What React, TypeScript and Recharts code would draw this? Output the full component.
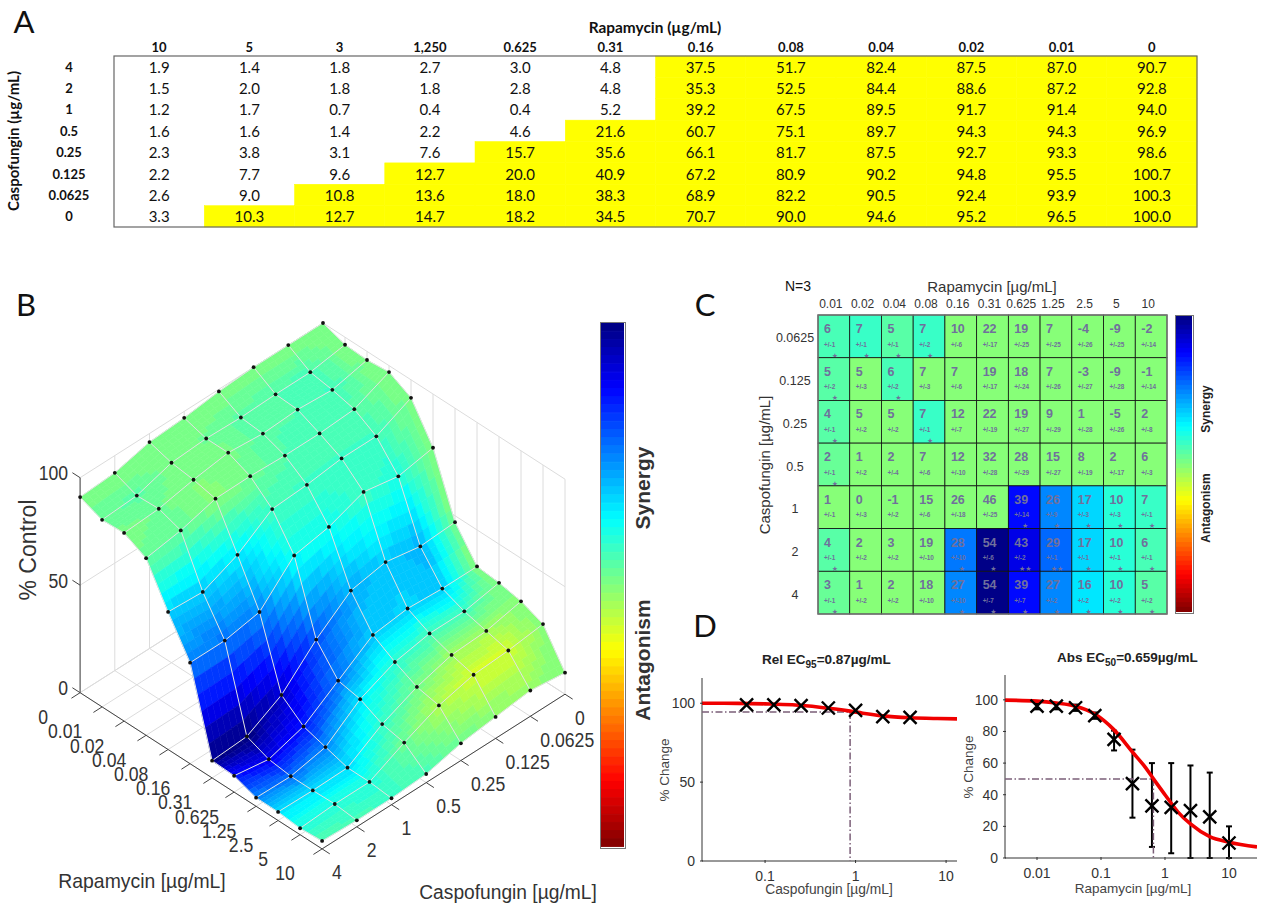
import { ScatterChart, Scatter, XAxis, YAxis, ErrorBar, BarChart, Bar, Cell } from "recharts";

const SANS = "'Liberation Sans', Arial, sans-serif";
const CAL = "Lato, sans-serif";

// panel A
const tableCols = ["10", "5", "3", "1,250", "0.625", "0.31", "0.16", "0.08", "0.04", "0.02", "0.01", "0"];
const tableRows = ["4", "2", "1", "0.5", "0.25", "0.125", "0.0625", "0"];
const tableValues = [
  [1.9, 1.4, 1.8, 2.7, 3.0, 4.8, 37.5, 51.7, 82.4, 87.5, 87.0, 90.7],
  [1.5, 2.0, 1.8, 1.8, 2.8, 4.8, 35.3, 52.5, 84.4, 88.6, 87.2, 92.8],
  [1.2, 1.7, 0.7, 0.4, 0.4, 5.2, 39.2, 67.5, 89.5, 91.7, 91.4, 94.0],
  [1.6, 1.6, 1.4, 2.2, 4.6, 21.6, 60.7, 75.1, 89.7, 94.3, 94.3, 96.9],
  [2.3, 3.8, 3.1, 7.6, 15.7, 35.6, 66.1, 81.7, 87.5, 92.7, 93.3, 98.6],
  [2.2, 7.7, 9.6, 12.7, 20.0, 40.9, 67.2, 80.9, 90.2, 94.8, 95.5, 100.7],
  [2.6, 9.0, 10.8, 13.6, 18.0, 38.3, 68.9, 82.2, 90.5, 92.4, 93.9, 100.3],
  [3.3, 10.3, 12.7, 14.7, 18.2, 34.5, 70.7, 90.0, 94.6, 95.2, 96.5, 100.0],
];

// panel B: rows are caspofungin 0..4, columns rapamycin 0..10
const surfaceRap = ["0", "0.01", "0.02", "0.04", "0.08", "0.16", "0.31", "0.625", "1.25", "2.5", "5", "10"];
const surfaceCaspo = ["0", "0.0625", "0.125", "0.25", "0.5", "1", "2", "4"];
const surfaceZ = [
  [100, 96.5, 96, 97, 91.6, 75, 47, 33, 32, 30, 26, 10],
  [100, 94, 92.4, 90, 84, 72, 46, 33, 29, 26.5, 24, 12],
  [100, 94, 93.5, 89, 84, 75, 49, 34, 29, 25.6, 23, 10],
  [99, 93.5, 92.6, 89, 82, 69, 46, 32, 26, 21, 19, 8],
  [97, 94, 94, 89.7, 81, 66, 33.5, 21, 19, 14, 12, 4],
  [96, 93, 91.7, 89.5, 70, 50, 18, 10, 7, 4, 4, 3],
  [92, 88, 88.5, 85, 63, 47, 9, 5, 3.7, 3.7, 4, 3],
  [91, 87, 87.5, 82.4, 64, 47, 8, 7.6, 4, 4, 3, 3.7],
];

// panel C
const synCols = ["0.01", "0.02", "0.04", "0.08", "0.16", "0.31", "0.625", "1.25", "2.5", "5", "10"];
const synRows = ["0.0625", "0.125", "0.25", "0.5", "1", "2", "4"];
const synValues = [
  [6, 7, 5, 7, 10, 22, 19, 7, -4, -9, -2],
  [5, 5, 6, 7, 7, 19, 18, 7, -3, -9, -1],
  [4, 5, 5, 7, 12, 22, 19, 9, 1, -5, 2],
  [2, 1, 2, 7, 12, 32, 28, 15, 8, 2, 6],
  [1, 0, -1, 15, 26, 46, 39, 26, 17, 10, 7],
  [4, 2, 3, 19, 28, 54, 43, 29, 17, 10, 6],
  [3, 1, 2, 18, 27, 54, 39, 27, 16, 10, 5],
];
const synErrors = [
  [1, 1, 1, 2, 6, 17, 25, 25, 26, 25, 14],
  [2, 3, 2, 3, 6, 17, 24, 26, 27, 28, 14],
  [1, 2, 2, 1, 7, 19, 27, 29, 28, 26, 8],
  [1, 2, 4, 6, 10, 28, 29, 27, 19, 17, 3],
  [1, 3, 2, 6, 18, 25, 14, 9, 3, 3, 1],
  [1, 2, 2, 10, 10, 6, 2, 1, 1, 1, 1],
  [1, 2, 2, 10, 10, 7, 7, 2, 2, 2, 2],
];
const synStars = [
  [1, 1, 1, 1, 0, 0, 0, 0, 0, 0, 0],
  [1, 0, 1, 0, 0, 0, 0, 0, 0, 0, 0],
  [1, 0, 0, 1, 0, 0, 0, 0, 0, 0, 0],
  [1, 0, 0, 0, 0, 0, 0, 0, 0, 0, 0],
  [0, 0, 0, 0, 0, 0, 1, 1, 1, 1, 1],
  [1, 0, 0, 0, 1, 1, 2, 2, 1, 1, 1],
  [1, 0, 0, 0, 1, 1, 1, 1, 1, 1, 1],
];

// panel D
const caspoDoses = [0.0625, 0.125, 0.25, 0.5, 1, 2, 4];
const caspoEffect = [99, 99, 98.5, 97, 95.5, 91.5, 91];
const caspoCurveX = [0.0201, 0.05, 0.1, 0.2, 0.4, 0.6, 0.87, 1.2, 2, 4, 8, 13.2];
const caspoCurveY = [100, 99.9, 99.6, 99, 97.5, 96.3, 95, 93.7, 92, 90.8, 90.3, 90.1];
const rapDoses = [0.01, 0.02, 0.04, 0.08, 0.16, 0.31, 0.625, 1.25, 2.5, 5, 10];
const rapEffect = [96, 96, 95, 90, 75, 47, 33, 32, 30, 26, 9.5];
const rapLow = [94, 94, 93, 88, 68, 25.5, 7, 3, 0, 0, 0];
const rapHigh = [98, 98, 97, 92, 80.5, 68.5, 60, 60, 58.5, 54, 20];
const rapCurveX = [0.00316, 0.01, 0.02, 0.04, 0.08, 0.16, 0.31, 0.5, 0.66, 1, 1.6, 2.5, 5, 10, 27.4];
const rapCurveY = [99.8, 99.2, 98, 96, 91, 81, 67, 57, 50, 40, 29, 21.5, 13.5, 10, 7];

const clamp = (v: number) => Math.max(0, Math.min(1, v));
function jet(s: number) {
  const r = clamp(Math.min(4 * s - 1.5, -4 * s + 4.5));
  const g = clamp(Math.min(4 * s - 0.5, -4 * s + 3.5));
  const b = clamp(Math.min(4 * s + 0.5, -4 * s + 2.5));
  return `rgb(${Math.round(r * 255)},${Math.round(g * 255)},${Math.round(b * 255)})`;
}
// synergy 54 is navy, -54 dark red, in 64 steps
function synColor(v: number) {
  const s = clamp(0.5 - v / 108);
  return jet((Math.min(63, Math.floor(s * 64)) + 0.5) / 64);
}

// 3D view of panel B, in page pixels
const project = (i: number, j: number, z: number) => ({
  x: 323 + 22 * i - 34.7 * j,
  y: 538 + 14.2 * i + 22.1 * j - 2.15 * z,
});

const synergyAt = (i: number, j: number) => (i === 0 || j === 0 ? 0 : synValues[j - 1][i - 1]);

const SUB = 6;
function buildPatches() {
  const out: any[] = [];
  const bil = (a: number, b: number, c: number, d: number, s: number, t: number) =>
    a * (1 - s) * (1 - t) + b * s * (1 - t) + c * (1 - s) * t + d * s * t;
  for (let j = 0; j < surfaceCaspo.length - 1; j++) {
    for (let i = 0; i < surfaceRap.length - 1; i++) {
      const z = [surfaceZ[j][i], surfaceZ[j][i + 1], surfaceZ[j + 1][i], surfaceZ[j + 1][i + 1]];
      const v = [synergyAt(i, j), synergyAt(i + 1, j), synergyAt(i, j + 1), synergyAt(i + 1, j + 1)];
      for (let b = 0; b < SUB; b++) {
        for (let a = 0; a < SUB; a++) {
          const pt = (s: number, t: number) =>
            project(i + s, j + t, bil(z[0], z[1], z[2], z[3], s, t));
          const s0 = a / SUB, s1 = (a + 1) / SUB, t0 = b / SUB, t1 = (b + 1) / SUB;
          const c = pt((s0 + s1) / 2, (t0 + t1) / 2);
          out.push({
            x: c.x,
            y: c.y,
            poly: [pt(s0, t0), pt(s1, t0), pt(s1, t1), pt(s0, t1)]
              .map((p) => `${(p.x - c.x).toFixed(2)},${(p.y - c.y).toFixed(2)}`)
              .join(" "),
            fill: synColor(bil(v[0], v[1], v[2], v[3], (s0 + s1) / 2, (t0 + t1) / 2)),
          });
        }
      }
    }
  }
  return out;
}

const NI = surfaceRap.length;
const NJ = surfaceCaspo.length;
const range = (n: number) => Array.from({ length: n }, (_, k) => k);

const wallLines = [
  ...[0, 50, 100].map((z) => [project(0, NJ - 1, z), project(0, 0, z), project(NI - 1, 0, z)]),
  ...range(NJ).map((j) => [project(0, j, 0), project(0, j, 100)]),
  ...range(NI).map((i) => [project(i, 0, 0), project(i, 0, 100)]),
  ...range(NI).map((i) => [project(i, 0, 0), project(i, NJ - 1, 0)]),
  ...range(NJ).map((j) => [project(0, j, 0), project(NI - 1, j, 0)]),
];
const axisLines = [
  [project(0, NJ - 1, 0), project(0, NJ - 1, 100)],
  [project(0, NJ - 1, 0), project(NI - 1, NJ - 1, 0), project(NI - 1, 0, 0)],
  ...range(NI).map((i) => [project(i, NJ - 1, 0), project(i, NJ - 1 + 0.25, 0)]),
  ...range(NJ).map((j) => [project(NI - 1, j, 0), project(NI - 1 + 0.35, j, 0)]),
  ...[0, 50, 100].map((z) => [project(0, NJ - 1, z), project(-0.35, NJ - 1, z)]),
];
const meshLines = [
  ...range(NJ).map((j) => range(NI).map((i) => project(i, j, surfaceZ[j][i]))),
  ...range(NI).map((i) => range(NJ).map((j) => project(i, j, surfaceZ[j][i]))),
];
const meshPoints = range(NJ).flatMap((j) => range(NI).map((i) => project(i, j, surfaceZ[j][i])));

const NoDot = () => <g />;

function Txt({ x, y, children, size = 13, weight = "normal", anchor = "middle", rotate = 0, sx = 1, font = SANS, fill = "#222" }: any) {
  return (
    <text
      transform={`translate(${x},${y}) rotate(${rotate}) scale(${sx},1)`}
      fontFamily={font}
      fontSize={size}
      fontWeight={weight}
      textAnchor={anchor}
      dominantBaseline="central"
      fill={fill}
    >
      {children}
    </text>
  );
}

const abs = (left: number, top: number, width: number, height: number): any => ({
  position: "absolute",
  left,
  top,
  width,
  height,
});

function TablePanel() {
  const W = (1197 - 114) / tableCols.length;
  const H = (227 - 56) / tableRows.length;
  const cells = tableValues.flatMap((row, r) =>
    row.map((v, c) => ({ x: c + 0.5, y: r + 0.5, v }))
  );
  return (
    <div style={abs(0, 0, 1263, 240)}>
      <ScatterChart width={1263} height={240} margin={{ top: 0, right: 66, bottom: 13, left: 0 }}>
        <XAxis
          type="number"
          dataKey="x"
          orientation="top"
          height={56}
          domain={[0, tableCols.length]}
          ticks={tableCols.map((_, k) => k + 0.5)}
          interval={0}
          axisLine={false}
          tickLine={false}
          tick={(p: any) => (
            <Txt x={p.x} y={47} size={13} weight="bold" font={CAL} fill="#111">
              {tableCols[Math.floor(p.payload.value)]}
            </Txt>
          )}
        />
        <YAxis
          type="number"
          dataKey="y"
          reversed
          width={114}
          domain={[0, tableRows.length]}
          ticks={tableRows.map((_, k) => k + 0.5)}
          interval={0}
          axisLine={false}
          tickLine={false}
          tick={(p: any) => (
            <Txt x={69} y={p.y} size={13} weight="bold" font={CAL} fill="#111">
              {tableRows[Math.floor(p.payload.value)]}
            </Txt>
          )}
        />
        <Scatter
          data={cells}
          isAnimationActive={false}
          shape={(p: any) => (
            <g>
              <rect
                x={p.cx - W / 2}
                y={p.cy - H / 2}
                width={W}
                height={H}
                fill={p.payload.v >= 10 ? "#ffff00" : "#fff"}
                stroke={p.payload.v >= 10 ? "#ffff00" : "none"}
                strokeWidth={0.5}
              />
              <Txt x={p.cx} y={p.cy} size={15} font={CAL} fill="#111">
                {p.payload.v.toFixed(1)}
              </Txt>
            </g>
          )}
        />
      </ScatterChart>
    </div>
  );
}

function SurfacePanel() {
  const patches = buildPatches();
  return (
    <div style={abs(0, 0, 700, 908)}>
      <ScatterChart width={700} height={908} margin={{ top: 0, right: 0, bottom: 0, left: 0 }}>
        <XAxis type="number" dataKey="x" hide domain={[0, 700]} />
        <YAxis type="number" dataKey="y" hide reversed domain={[0, 908]} />
        {wallLines.map((pts, k) => (
          <Scatter key={`w${k}`} data={pts} isAnimationActive={false} shape={NoDot} line={{ stroke: "#dcdcdc", strokeWidth: 1 }} />
        ))}
        {axisLines.map((pts, k) => (
          <Scatter key={`a${k}`} data={pts} isAnimationActive={false} shape={NoDot} line={{ stroke: "#444", strokeWidth: 1 }} />
        ))}
        <Scatter
          data={patches}
          isAnimationActive={false}
          shape={(p: any) => (
            <polygon
              transform={`translate(${p.cx},${p.cy})`}
              points={p.payload.poly}
              fill={p.payload.fill}
              stroke={p.payload.fill}
              strokeWidth={0.6}
            />
          )}
        />
        {meshLines.map((pts, k) => (
          <Scatter key={`m${k}`} data={pts} isAnimationActive={false} shape={NoDot} line={{ stroke: "#e2e2e2", strokeWidth: 1 }} />
        ))}
        <Scatter
          data={meshPoints}
          isAnimationActive={false}
          shape={(p: any) => <circle cx={p.cx} cy={p.cy} r={1.9} fill="#111" />}
        />
      </ScatterChart>
    </div>
  );
}

function SynergyPanel() {
  const W = (1167 - 818) / synCols.length;
  const H = (614 - 315) / synRows.length;
  const cells = synValues.flatMap((row, r) =>
    row.map((v, c) => ({ x: c + 0.5, y: r + 0.5, v, e: synErrors[r][c], s: synStars[r][c] }))
  );
  const ink = "#70709c";
  return (
    <div style={abs(740, 270, 440, 350)}>
      <ScatterChart width={440} height={350} margin={{ top: 0, right: 13, bottom: 6, left: 0 }}>
        <XAxis
          type="number"
          dataKey="x"
          orientation="top"
          height={45}
          domain={[0, synCols.length]}
          ticks={synCols.map((_, k) => k + 0.5)}
          interval={0}
          axisLine={false}
          tickLine={false}
          tick={(p: any) => (
            <Txt x={p.x - 3} y={34} size={12} fill="#333">
              {synCols[Math.floor(p.payload.value)]}
            </Txt>
          )}
        />
        <YAxis
          type="number"
          dataKey="y"
          reversed
          width={78}
          domain={[0, synRows.length]}
          ticks={synRows.map((_, k) => k + 0.5)}
          interval={0}
          axisLine={false}
          tickLine={false}
          tick={(p: any) => (
            <Txt x={55} y={p.y + 2} size={12.5} fill="#333">
              {synRows[Math.floor(p.payload.value)]}
            </Txt>
          )}
        />
        <Scatter
          data={cells}
          isAnimationActive={false}
          shape={(p: any) => {
            const d = p.payload;
            const left = p.cx - W / 2;
            const top = p.cy - H / 2;
            return (
              <g>
                <rect x={left} y={top} width={W} height={H} fill={synColor(d.s > 0 ? d.v : 0)} stroke="#111" strokeWidth={0.8} />
                <Txt x={left + 6} y={top + 14} size={12.5} weight="bold" anchor="start" fill={ink}>{d.v}</Txt>
                <Txt x={left + 6} y={top + 29} size={6.4} weight="bold" anchor="start" fill={ink}>{`+/-${d.e}`}</Txt>
                {d.s > 0 && (
                  <Txt x={p.cx + 1} y={top + 40.5} size={7} font="'DejaVu Sans'" fill={ink}>{"★".repeat(d.s)}</Txt>
                )}
              </g>
            );
          }}
        />
      </ScatterChart>
    </div>
  );
}

const barLevels = range(64).map((k) => ({ level: k, v: 1, fill: jet((k + 0.5) / 64) }));

function ColorBar({ left, top, width, height }: any) {
  return (
    <div style={{ ...abs(left, top, width, height), boxSizing: "border-box", border: "1.5px solid #777" }}>
      <BarChart
        layout="vertical"
        width={width - 3}
        height={height - 3}
        data={barLevels}
        barCategoryGap={0}
        margin={{ top: 0, right: 0, bottom: 0, left: 0 }}
      >
        <XAxis type="number" hide domain={[0, 1]} />
        <YAxis type="category" dataKey="level" hide />
        <Bar dataKey="v" isAnimationActive={false}>
          {barLevels.map((d) => (
            <Cell key={d.level} fill={d.fill} stroke={d.fill} />
          ))}
        </Bar>
      </BarChart>
    </div>
  );
}

const XMark = (p: any) => (
  <path
    d={`M${p.cx - 6.5},${p.cy - 6.5}L${p.cx + 6.5},${p.cy + 6.5}M${p.cx - 6.5},${p.cy + 6.5}L${p.cx + 6.5},${p.cy - 6.5}`}
    stroke="#000"
    strokeWidth={2.4}
    fill="none"
  />
);

const zip = (xs: number[], ys: number[]) => xs.map((x, k) => ({ x, y: ys[k] }));

function DoseChart({ box, margin, yWidth, xHeight, xDomain, yTop, yTicks, xTicks, curve, points, dashH, dashV }: any) {
  const axisColor = "#333";
  return (
    <div style={abs(box[0], box[1], box[2], box[3])}>
      <ScatterChart width={box[2]} height={box[3]} margin={margin}>
        <XAxis
          type="number"
          dataKey="x"
          scale="log"
          domain={xDomain}
          allowDataOverflow
          ticks={xTicks}
          interval={0}
          height={xHeight}
          tickSize={0}
          stroke={axisColor}
          tick={(p: any) => (
            <g>
              <line x1={p.x} x2={p.x} y1={p.y} y2={p.y - 3} stroke={axisColor} />
              <Txt x={p.x} y={p.y + 13} size={14} fill="#333">{String(p.payload.value)}</Txt>
            </g>
          )}
        />
        <YAxis
          type="number"
          dataKey="y"
          width={yWidth}
          domain={[0, yTop]}
          allowDataOverflow
          ticks={yTicks}
          interval={0}
          tickSize={0}
          stroke={axisColor}
          tick={(p: any) => (
            <g>
              <line x1={p.x} x2={p.x + 3} y1={p.y} y2={p.y} stroke={axisColor} />
              <Txt x={p.x - 5} y={p.y} size={14} anchor="end" fill="#333">{String(p.payload.value)}</Txt>
            </g>
          )}
        />
        {[dashH, dashV].map((pts: any, k: number) => (
          <Scatter
            key={k}
            data={pts}
            isAnimationActive={false}
            shape={NoDot}
            line={{ stroke: "#7b5f78", strokeWidth: 1.5, strokeDasharray: "7 2.5 1.5 2.5" }}
          />
        ))}
        <Scatter
          data={curve}
          isAnimationActive={false}
          shape={NoDot}
          lineJointType="monotoneX"
          line={{ stroke: "#f00000", strokeWidth: 3.6 }}
        />
        <Scatter data={points} isAnimationActive={false} shape={XMark}>
          {points[0].err && (
            <ErrorBar dataKey="err" direction="y" width={3} stroke="#000" strokeWidth={2} isAnimationActive={false} />
          )}
        </Scatter>
      </ScatterChart>
    </div>
  );
}

function Overlay() {
  return (
    <svg width={1263} height={908} style={{ ...abs(0, 0, 1263, 908), pointerEvents: "none" }}>
      <Txt x={24} y={21} size={31} font={CAL} fill="#111">A</Txt>
      <Txt x={26} y={304} size={31} font={CAL} fill="#111">B</Txt>
      <Txt x={705} y={304} size={31} font={CAL} fill="#111">C</Txt>
      <Txt x={705} y={625} size={31} font={CAL} fill="#111">D</Txt>

      <Txt x={655} y={27} size={15.4} weight="bold" font={CAL} fill="#111">Rapamycin (µg/mL)</Txt>
      <Txt x={13} y={141} size={15} weight="bold" font={CAL} fill="#111" rotate={-90}>Caspofungin (µg/mL)</Txt>
      <rect x={114} y={56} width={1083} height={171} fill="none" stroke="#666" strokeWidth={1.2} />

      {surfaceRap.map((t, i) => {
        const p = project(i, NJ - 1, 0);
        return <Txt key={t} x={p.x - 37} y={p.y + 24} size={21} sx={0.84} fill="#333">{t}</Txt>;
      })}
      {surfaceCaspo.map((t, j) => {
        const p = project(NI - 1, j, 0);
        return <Txt key={t} x={p.x + 10} y={p.y + 23} size={21} sx={0.84} anchor="start" fill="#333">{t}</Txt>;
      })}
      {[0, 50, 100].map((z) => {
        const p = project(0, NJ - 1, z);
        return <Txt key={z} x={p.x - 12} y={p.y - 5} size={21} sx={0.84} anchor="end" fill="#333">{String(z)}</Txt>;
      })}
      <Txt x={28} y={550} size={23} rotate={-90} fill="#333">% Control</Txt>
      <Txt x={142} y={881} size={20} sx={0.97} fill="#333">Rapamycin [µg/mL]</Txt>
      <Txt x={508} y={892} size={20} sx={0.96} fill="#333">Caspofungin [µg/mL]</Txt>
      <Txt x={642} y={488} size={21} weight="bold" rotate={-90} fill="#333">Synergy</Txt>
      <Txt x={642} y={660} size={21} weight="bold" rotate={-90} fill="#333">Antagonism</Txt>

      <rect x={818} y={315} width={349} height={299} fill="none" stroke="#777" strokeWidth={1.4} />
      <Txt x={798} y={286} size={14} fill="#111">N=3</Txt>
      <Txt x={992} y={286} size={15} fill="#333">Rapamycin [µg/mL]</Txt>
      <Txt x={764} y={465} size={15} rotate={-90} fill="#333">Caspofungin [µg/mL]</Txt>
      <Txt x={1206} y={409} size={12} weight="bold" rotate={-90} fill="#222">Synergy</Txt>
      <Txt x={1206} y={508} size={12} weight="bold" rotate={-90} fill="#222">Antagonism</Txt>

      <text x={762} y={664} fontFamily={SANS} fontSize={13.5} fontWeight="bold" fill="#222">
        Rel EC<tspan fontSize={10} dy={4}>95</tspan><tspan dy={-4}>=0.87µg/mL</tspan>
      </text>
      <text x={1057} y={662} fontFamily={SANS} fontSize={13.5} fontWeight="bold" fill="#222">
        Abs EC<tspan fontSize={10} dy={4}>50</tspan><tspan dy={-4}>=0.659µg/mL</tspan>
      </text>
      <Txt x={829} y={889} size={13.8} fill="#444">Caspofungin [µg/mL]</Txt>
      <Txt x={1133} y={888} size={13.5} fill="#444">Rapamycin [µg/mL]</Txt>
      <Txt x={664} y={770} size={13.5} rotate={-90} fill="#444">% Change</Txt>
      <Txt x={968} y={767} size={13.5} rotate={-90} fill="#444">% Change</Txt>
    </svg>
  );
}

export default function App() {
  return (
    <div style={{ ...abs(0, 0, 1263, 908), background: "#fff", overflow: "hidden" }}>
      <TablePanel />
      <SurfacePanel />
      <ColorBar left={600} top={322} width={26} height={527} />
      <SynergyPanel />
      <ColorBar left={1175} top={315} width={19} height={299} />
      <DoseChart
        box={[650, 660, 320, 240]}
        margin={{ top: 18, right: 13, bottom: 0, left: 0 }}
        yWidth={52}
        xHeight={39}
        xDomain={[0.0201, 13.2]}
        yTop={116}
        yTicks={[0, 50, 100]}
        xTicks={[0.1, 1, 10]}
        curve={zip(caspoCurveX, caspoCurveY)}
        points={zip(caspoDoses, caspoEffect)}
        dashH={zip([0.0201, 0.87], [94.5, 94.5])}
        dashV={zip([0.87, 0.87], [94.5, 0])}
      />
      <DoseChart
        box={[960, 660, 303, 240]}
        margin={{ top: 15, right: 6, bottom: 0, left: 0 }}
        yWidth={45}
        xHeight={42}
        xDomain={[0.00316, 27.4]}
        yTop={115.7}
        yTicks={[0, 20, 40, 60, 80, 100]}
        xTicks={[0.01, 0.1, 1, 10]}
        curve={zip(rapCurveX, rapCurveY)}
        points={rapDoses.map((x, k) => ({
          x,
          y: rapEffect[k],
          err: [rapEffect[k] - rapLow[k], rapHigh[k] - rapEffect[k]],
        }))}
        dashH={zip([0.00316, 0.659], [50, 50])}
        dashV={zip([0.659, 0.659], [50, 0])}
      />
      <Overlay />
    </div>
  );
}
